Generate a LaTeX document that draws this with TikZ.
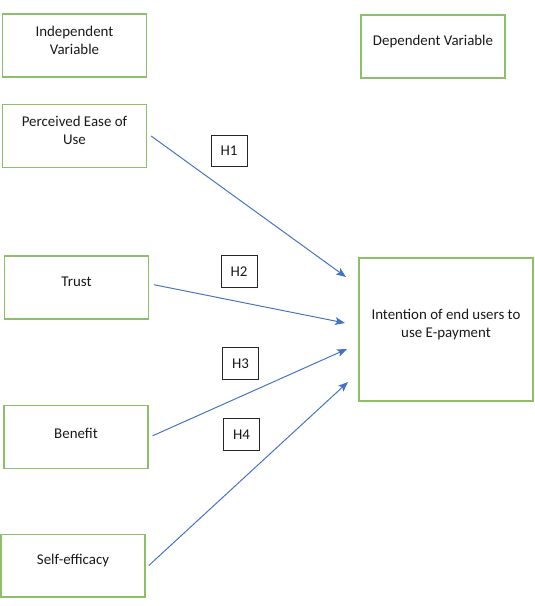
\documentclass[tikz,border=0pt]{standalone}
\usepackage{fontspec}
\setmainfont{Carlito}
\usetikzlibrary{arrows.meta}
\definecolor{boxgreen}{HTML}{8CBF68}
\definecolor{linkblue}{HTML}{4472C4}
\begin{document}
\begin{tikzpicture}
        [x=0.025cm, y=-0.025cm, font=\fontsize{10.6}{13.3}\selectfont, text=black!90,
        varbox/.style={draw=boxgreen, line width=0.85pt, minimum width=3.6cm, minimum height=1.57cm},
        vartext/.style={align=center, inner sep=0pt},
        hypbox/.style={draw=black!85, line width=0.7pt, minimum width=0.9cm, minimum height=0.78cm, inner sep=0pt},
        link/.style={linkblue, line width=0.7pt, -{Stealth[length=7pt, width=5.5pt, inset=1.5pt]}}]

        \useasboundingbox (0,0) rectangle (534,606);

        % header boxes
        \node[varbox] (indep) at (74.5,45.5) {};
        \node[varbox] (dep) at (433,46.5) {};
        \node[vartext] (indep-t) at (74.5,40.5) {Independent\\Variable};
        \node[vartext] (dep-t) at (433,42) {Dependent Variable};

        % independent variables
        \node[varbox] (peu) at (74.5,136) {};
        \node[varbox] (trust) at (76.5,287.5) {};
        \node[varbox] (benefit) at (76,437) {};
        \node[varbox] (self) at (73,565.5) {};
        \node[vartext] (peu-t) at (74.5,130.5) {Perceived Ease of\\Use};
        \node[vartext] (trust-t) at (76.5,282) {Trust};
        \node[vartext] (benefit-t) at (76,433) {Benefit};
        \node[vartext] (self-t) at (73,561) {Self-efficacy};

        % dependent variable
        \node[varbox, minimum width=4.35cm, minimum height=3.57cm] (intent) at (446,329.5) {};
        \node[vartext] (intent-t) at (446,324.5) {Intention of end users to\\use E-payment};

        % hypotheses
        \node[hypbox] (h1) at (229,151) {H1};
        \node[hypbox] (h2) at (239,271.5) {H2};
        \node[hypbox] (h3) at (240.5,363.5) {H3};
        \node[hypbox] (h4) at (241.5,434.5) {H4};

        % arrow ends near the dependent box
        \coordinate (e1) at (346,277);
        \coordinate (e2) at (345,323);
        \coordinate (e3) at (347,349);
        \coordinate (e4) at (348,382);

        \draw[link] ([xshift=0.1cm]peu.east) -- (e1);
        \draw[link] ([xshift=0.12cm, yshift=0.07cm]trust.east) -- (e2);
        \draw[link] ([xshift=0.1cm, yshift=0.03cm]benefit.east) -- (e3);
        \draw[link] ([xshift=0.08cm]self.east) -- (e4);

        \end{tikzpicture}
\end{document}
